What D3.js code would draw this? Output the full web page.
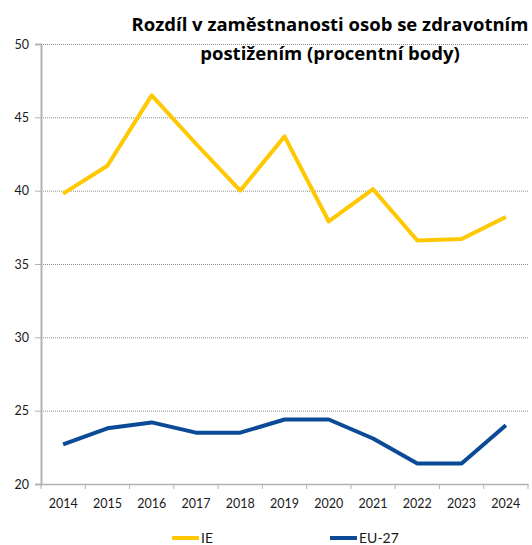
<!DOCTYPE html>
<html>
<head>
<meta charset="utf-8">
<script src="https://cdn.jsdelivr.net/npm/d3@7"></script>
<style>
  html, body { margin: 0; padding: 0; background: #fff; }
  svg { display: block; }
</style>
</head>
<body>
<svg id="chart" width="532" height="545"></svg>
<script>
// Chart data
const years = ["2014", "2015", "2016", "2017", "2018", "2019", "2020", "2021", "2022", "2023", "2024"];
const ieValues = [39.8, 41.7, 46.5, 43.2, 40.0, 43.7, 37.9, 40.1, 36.6, 36.7, 38.2];
const euValues = [22.7, 23.8, 24.2, 23.5, 23.5, 24.4, 24.4, 23.1, 21.4, 21.4, 24.0];
const yTicks = [20, 25, 30, 35, 40, 45, 50];
const titleLines = ["Rozdíl v zaměstnanosti osob se zdravotním", "postižením (procentní body)"];
const seriesNames = ["IE", "EU-27"];

const svg = d3.select("#chart");
const font = "Lato, 'Open Sans', sans-serif";
const titleFont = "'Open Sans', Lato, sans-serif";
const colors = { IE: "#FFC800", "EU-27": "#0B4A96" };

const plotLeft = 41, plotRight = 528, plotTop = 44, plotBottom = 484;

const x = d3.scaleBand().domain(years).range([plotLeft, plotRight]);
const y = d3.scaleLinear().domain([20, 50]).range([plotBottom, plotTop]);

// Horizontal gridlines (dotted)
svg.append("g")
  .selectAll("line")
  .data(yTicks.filter(t => t > 20))
  .join("line")
  .attr("x1", plotLeft).attr("x2", plotRight)
  .attr("y1", d => y(d) + 0.5).attr("y2", d => y(d) + 0.5)
  .attr("stroke", "#8c8c8c")
  .attr("stroke-width", 1)
  .attr("stroke-dasharray", "1,1");

// Y axis
const yAxis = svg.append("g")
  .attr("transform", `translate(${plotLeft},0)`)
  .call(d3.axisLeft(y).tickValues(yTicks).tickSize(6).tickPadding(6));
yAxis.select(".domain").attr("stroke", "#b3b3b3").attr("stroke-width", 2);
yAxis.selectAll(".tick line").attr("stroke", "#b3b3b3").attr("stroke-width", 1);
yAxis.selectAll(".tick text").attr("font-family", font).attr("font-size", 12.5).attr("fill", "#1a1a1a");

// X axis with ticks at category boundaries
const xAxis = svg.append("g")
  .attr("transform", `translate(0,${plotBottom})`)
  .call(d3.axisBottom(x).tickSize(0).tickPadding(15));
xAxis.select(".domain").attr("stroke", "#b3b3b3").attr("stroke-width", 1.5);
xAxis.selectAll(".tick text").attr("font-family", font).attr("font-size", 12.5).attr("fill", "#1a1a1a");
xAxis.selectAll("line.boundary")
  .data(years.concat(["end"]))
  .join("line")
  .attr("class", "boundary")
  .attr("x1", (d, i) => plotLeft + i * x.step())
  .attr("x2", (d, i) => plotLeft + i * x.step())
  .attr("y1", 0).attr("y2", 5)
  .attr("stroke", "#b3b3b3").attr("stroke-width", 1);

// Lines
const line = d3.line()
  .x((d, i) => x(years[i]) + x.bandwidth() / 2)
  .y(d => y(d));

[["IE", ieValues], ["EU-27", euValues]].forEach(([name, vals]) => {
  svg.append("path")
    .datum(vals)
    .attr("d", line)
    .attr("fill", "none")
    .attr("stroke", colors[name])
    .attr("stroke-width", 4)
    .attr("stroke-linejoin", "round");
});

// Title
const title = svg.append("text")
  .attr("font-family", titleFont)
  .attr("font-weight", "bold")
  .attr("font-size", 18.5)
  .attr("fill", "#000")
  .attr("text-anchor", "middle");
titleLines.forEach((t, i) => {
  title.append("tspan")
    .attr("x", 330)
    .attr("y", 31 + i * 29)
    .text(t);
});

// Legend
const legendPos = [{ x: 172 }, { x: 330 }];
seriesNames.forEach((name, i) => {
  const g = svg.append("g").attr("transform", `translate(${legendPos[i].x},538)`);
  g.append("line")
    .attr("x1", 0).attr("x2", 27)
    .attr("y1", 0).attr("y2", 0)
    .attr("stroke", colors[name]).attr("stroke-width", 4);
  g.append("text")
    .attr("x", 29).attr("y", 5)
    .attr("font-family", font).attr("font-size", 14)
    .attr("fill", "#1a1a1a")
    .text(name);
});
</script>
</body>
</html>
